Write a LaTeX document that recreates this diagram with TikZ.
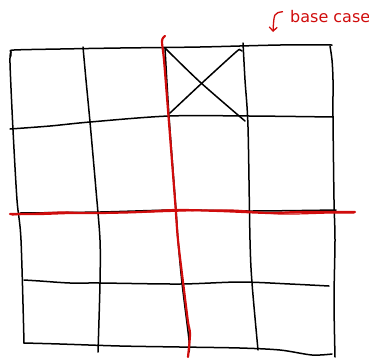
\documentclass[tikz,border=0pt]{standalone}
\usepackage{fontspec}
\usepackage{xcolor}
\usetikzlibrary{arrows.meta,positioning}
\newfontfamily\handfont{DejaVu Sans}
\definecolor{penred}{RGB}{208,12,12}
\tikzset{
  inkline/.style={line width=1.5pt, draw=black, line cap=round, line join=round},
  redline/.style={line width=2.2pt, draw=penred, line cap=round, line join=round},
  penarr/.style={-{Straight Barb[length=4pt,width=8pt]}, line width=1.3pt, draw=penred},
}

\begin{document}
\begin{tikzpicture}[
  x=1pt, y=-1pt,
  note/.style={font=\handfont\fontsize{16}{16}\selectfont, text=penred, inner sep=0pt, anchor=base west},
]
  \useasboundingbox (0,0) rectangle (369,357);

  % Outer frame
  \draw[inkline] plot[smooth] coordinates {(11,56) (11,52) (14,50) (60,49) (120,48) (200,47) (280,45) (332,45)};
  \draw[inkline] plot[smooth] coordinates {(11,52) (10,63) (13,130) (17,200) (21,240) (24,343)};
  \draw[inkline] plot[smooth] coordinates {(330,46) (332,60) (333,80) (333,117) (334,200) (335,240) (334,300) (335,357)};
  \draw[inkline] plot[smooth] coordinates {(24,343) (60,344) (120,346) (180,347) (240,348) (280,350) (312,355) (332,354)};

  % Inner rows
  \draw[inkline] plot[smooth] coordinates {(10,129) (50,126) (90,122) (169,116) (250,116) (333,117)};
  \draw[inkline] plot[smooth] coordinates {(20,213) (100,212) (176,210) (250,211) (336,210)};
  \draw[inkline] plot[smooth] coordinates {(24,280) (40,281) (70,283) (100,283) (180,284) (240,282) (290,284) (329,286)};

  % Inner columns
  \draw[inkline] plot[smooth] coordinates {(83,47) (86,80) (90,122) (96,190) (100,240) (100,283) (98,352)};
  \draw[inkline] plot[smooth] coordinates {(165,48) (169,116) (176,210) (178,240) (182,283) (189,340) (189,352)};
  \draw[inkline] plot[smooth] coordinates {(243,43) (245,80) (248,127) (250,240) (252,283) (258,350)};

  % Crossed cell
  \draw[inkline] plot[smooth] coordinates {(165,48) (200,82) (245,121)};
  \draw[inkline] plot[smooth] coordinates {(170,113) (202,83) (236,52) (240,50) (242,51)};

  % Red split
  \draw[redline] plot[smooth] coordinates {(10,214) (40,214) (70,213) (100,213) (140,212) (176,210) (220,211) (270,213) (300,212) (355,212)};
  \draw[redline, line width=1.2pt] plot[smooth] coordinates {(12,215) (60,212) (90,213) (150,212) (230,210) (280,214) (330,213) (354,213)};
  \draw[redline] plot[smooth] coordinates {(165,36) (162,41) (164,60) (168,110) (175,200) (178,240) (184,290) (188,322) (190,334) (188,357)};

  % Label
  \node[note] (lbl) at (290,22) {base case};
  \coordinate (bc) at (273,32);
  \draw[penarr] ([xshift=-7pt,yshift=-2pt]lbl.north west) .. controls (274,13) .. (bc);

\end{tikzpicture}
\end{document}
